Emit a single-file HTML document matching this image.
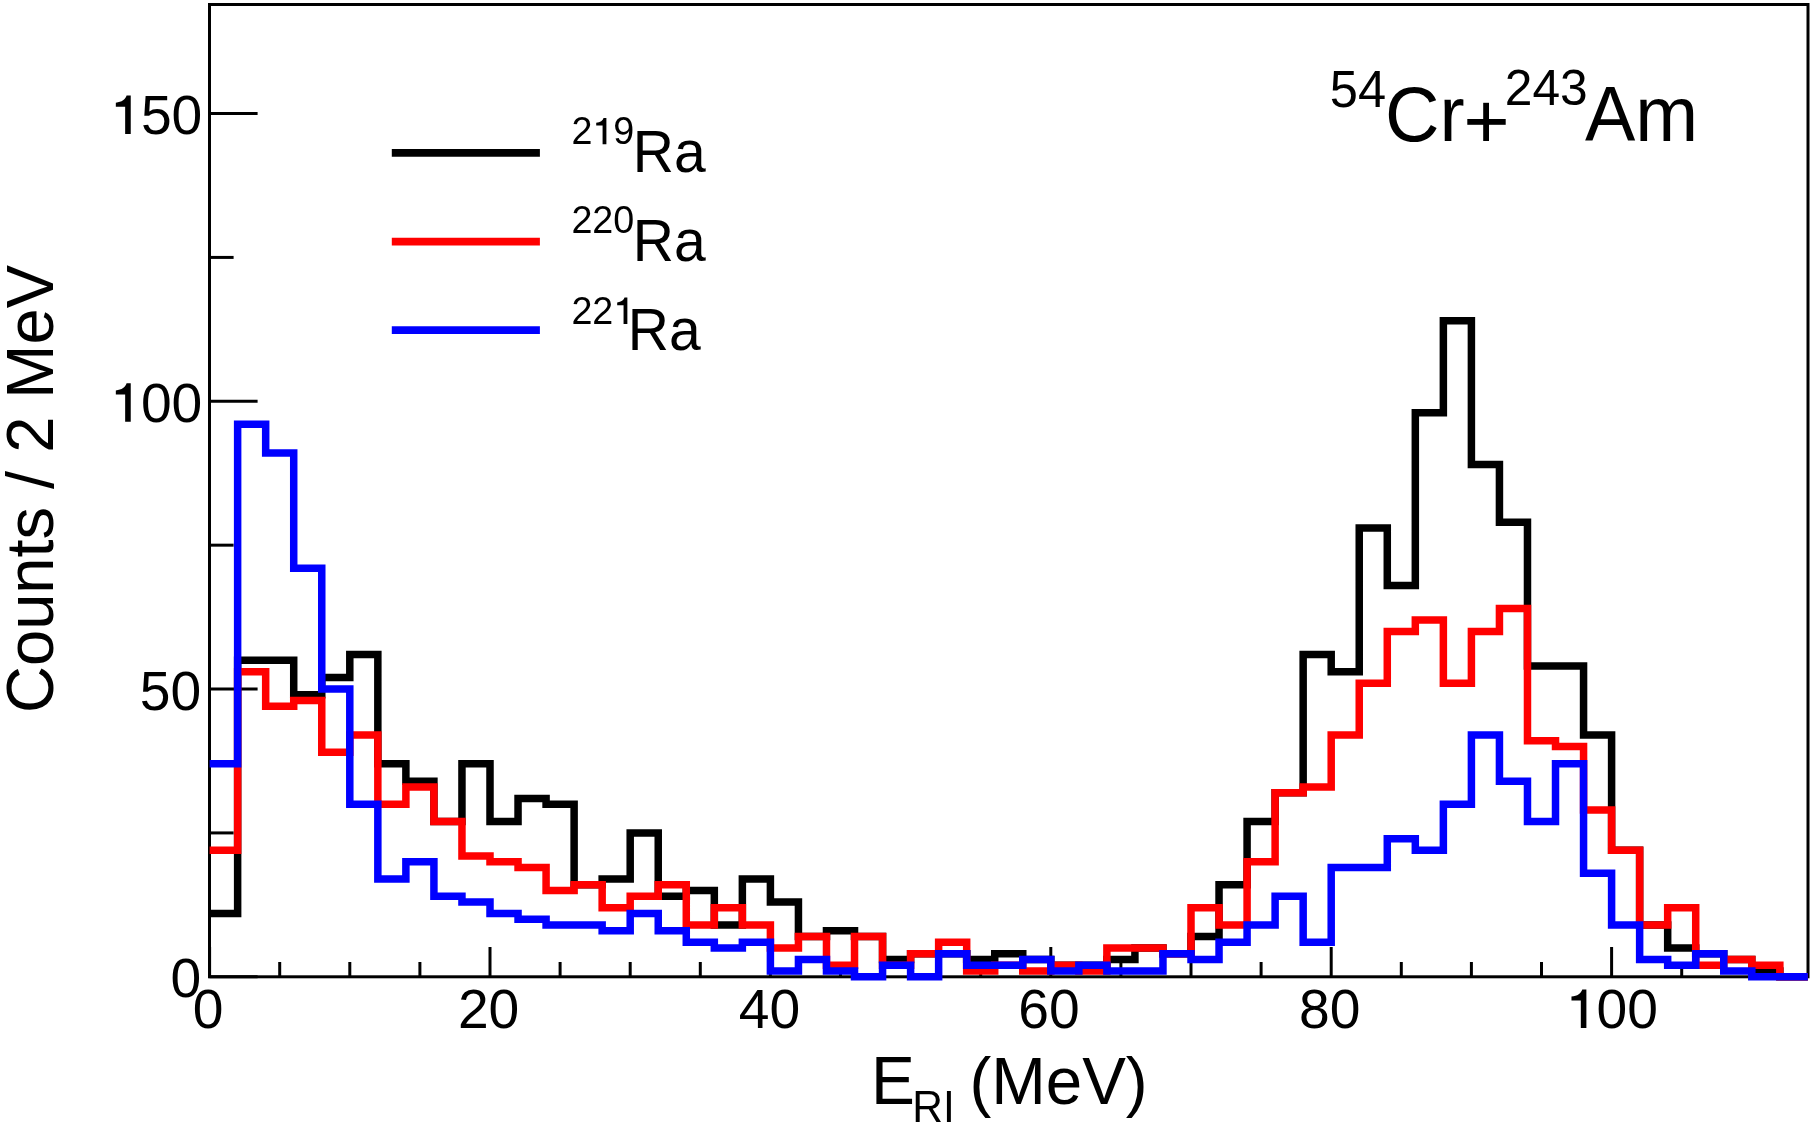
<!DOCTYPE html>
<html><head><meta charset="utf-8"><style>
html,body{margin:0;padding:0;background:#fff;overflow:hidden}
svg{display:block;will-change:transform}
text{font-family:"Liberation Sans",sans-serif;fill:#000}
</style></head><body>
<svg width="1814" height="1125" viewBox="0 0 1814 1125">
<rect width="1814" height="1125" fill="#fff"/>
<g stroke="#000" stroke-width="3" fill="none">
<rect x="209.5" y="4.5" width="1598.5" height="972.3"/>
<line x1="209.50" y1="976.80" x2="257.60" y2="976.80"/><line x1="209.50" y1="689.05" x2="257.60" y2="689.05"/><line x1="209.50" y1="401.30" x2="257.60" y2="401.30"/><line x1="209.50" y1="113.55" x2="257.60" y2="113.55"/><line x1="209.50" y1="832.92" x2="233.60" y2="832.92"/><line x1="209.50" y1="545.17" x2="233.60" y2="545.17"/><line x1="209.50" y1="257.42" x2="233.60" y2="257.42"/><line x1="209.60" y1="976.80" x2="209.60" y2="947.00"/><line x1="279.70" y1="976.80" x2="279.70" y2="962.00"/><line x1="349.80" y1="976.80" x2="349.80" y2="962.00"/><line x1="419.90" y1="976.80" x2="419.90" y2="962.00"/><line x1="490.00" y1="976.80" x2="490.00" y2="947.00"/><line x1="560.10" y1="976.80" x2="560.10" y2="962.00"/><line x1="630.20" y1="976.80" x2="630.20" y2="962.00"/><line x1="700.30" y1="976.80" x2="700.30" y2="962.00"/><line x1="770.40" y1="976.80" x2="770.40" y2="947.00"/><line x1="840.50" y1="976.80" x2="840.50" y2="962.00"/><line x1="910.60" y1="976.80" x2="910.60" y2="962.00"/><line x1="980.70" y1="976.80" x2="980.70" y2="962.00"/><line x1="1050.80" y1="976.80" x2="1050.80" y2="947.00"/><line x1="1120.90" y1="976.80" x2="1120.90" y2="962.00"/><line x1="1191.00" y1="976.80" x2="1191.00" y2="962.00"/><line x1="1261.10" y1="976.80" x2="1261.10" y2="962.00"/><line x1="1331.20" y1="976.80" x2="1331.20" y2="947.00"/><line x1="1401.30" y1="976.80" x2="1401.30" y2="962.00"/><line x1="1471.40" y1="976.80" x2="1471.40" y2="962.00"/><line x1="1541.50" y1="976.80" x2="1541.50" y2="962.00"/><line x1="1611.60" y1="976.80" x2="1611.60" y2="947.00"/><line x1="1681.70" y1="976.80" x2="1681.70" y2="962.00"/><line x1="1751.80" y1="976.80" x2="1751.80" y2="962.00"/>
</g>
<g fill="none" stroke-width="7.5" stroke-linejoin="miter" stroke-miterlimit="10" stroke-linecap="butt">
<path stroke="#000" d="M209.60 913.50 L237.64 913.50 L237.64 660.27 L265.68 660.27 L265.68 660.27 L293.72 660.27 L293.72 694.80 L321.76 694.80 L321.76 677.54 L349.80 677.54 L349.80 654.52 L377.84 654.52 L377.84 763.87 L405.88 763.87 L405.88 781.13 L433.92 781.13 L433.92 821.41 L461.96 821.41 L461.96 763.87 L490.00 763.87 L490.00 821.41 L518.04 821.41 L518.04 798.39 L546.08 798.39 L546.08 804.15 L574.12 804.15 L574.12 884.72 L602.16 884.72 L602.16 878.96 L630.20 878.96 L630.20 832.92 L658.24 832.92 L658.24 896.23 L686.28 896.23 L686.28 890.47 L714.32 890.47 L714.32 925.00 L742.36 925.00 L742.36 878.96 L770.40 878.96 L770.40 901.98 L798.44 901.98 L798.44 936.51 L826.48 936.51 L826.48 930.76 L854.52 930.76 L854.52 936.51 L882.56 936.51 L882.56 959.53 L910.60 959.53 L910.60 953.78 L938.64 953.78 L938.64 953.78 L966.68 953.78 L966.68 959.53 L994.72 959.53 L994.72 953.78 L1022.76 953.78 L1022.76 959.53 L1050.80 959.53 L1050.80 965.29 L1078.84 965.29 L1078.84 965.29 L1106.88 965.29 L1106.88 959.53 L1134.92 959.53 L1134.92 948.02 L1162.96 948.02 L1162.96 953.78 L1191.00 953.78 L1191.00 936.51 L1219.04 936.51 L1219.04 884.72 L1247.08 884.72 L1247.08 821.41 L1275.12 821.41 L1275.12 792.64 L1303.16 792.64 L1303.16 654.52 L1331.20 654.52 L1331.20 671.78 L1359.24 671.78 L1359.24 527.91 L1387.28 527.91 L1387.28 585.46 L1415.32 585.46 L1415.32 412.81 L1443.36 412.81 L1443.36 320.73 L1471.40 320.73 L1471.40 464.61 L1499.44 464.61 L1499.44 522.15 L1527.48 522.15 L1527.48 666.03 L1555.52 666.03 L1555.52 666.03 L1583.56 666.03 L1583.56 735.09 L1611.60 735.09 L1611.60 850.19 L1639.64 850.19 L1639.64 925.00 L1667.68 925.00 L1667.68 948.02 L1695.72 948.02 L1695.72 953.78 L1723.76 953.78 L1723.76 959.53 L1751.80 959.53 L1751.80 971.04 L1779.84 971.04 L1779.84 976.80 L1807.88 976.80"/>
<path stroke="#f00" d="M209.60 850.19 L237.64 850.19 L237.64 671.78 L265.68 671.78 L265.68 706.31 L293.72 706.31 L293.72 700.56 L321.76 700.56 L321.76 752.36 L349.80 752.36 L349.80 735.09 L377.84 735.09 L377.84 804.15 L405.88 804.15 L405.88 786.88 L433.92 786.88 L433.92 821.41 L461.96 821.41 L461.96 855.94 L490.00 855.94 L490.00 861.70 L518.04 861.70 L518.04 867.45 L546.08 867.45 L546.08 890.47 L574.12 890.47 L574.12 884.72 L602.16 884.72 L602.16 907.74 L630.20 907.74 L630.20 896.23 L658.24 896.23 L658.24 884.72 L686.28 884.72 L686.28 925.00 L714.32 925.00 L714.32 907.74 L742.36 907.74 L742.36 925.00 L770.40 925.00 L770.40 948.02 L798.44 948.02 L798.44 936.51 L826.48 936.51 L826.48 965.29 L854.52 965.29 L854.52 936.51 L882.56 936.51 L882.56 965.29 L910.60 965.29 L910.60 953.78 L938.64 953.78 L938.64 942.27 L966.68 942.27 L966.68 971.04 L994.72 971.04 L994.72 965.29 L1022.76 965.29 L1022.76 971.04 L1050.80 971.04 L1050.80 965.29 L1078.84 965.29 L1078.84 971.04 L1106.88 971.04 L1106.88 948.02 L1134.92 948.02 L1134.92 948.02 L1162.96 948.02 L1162.96 953.78 L1191.00 953.78 L1191.00 907.74 L1219.04 907.74 L1219.04 925.00 L1247.08 925.00 L1247.08 861.70 L1275.12 861.70 L1275.12 792.64 L1303.16 792.64 L1303.16 786.88 L1331.20 786.88 L1331.20 735.09 L1359.24 735.09 L1359.24 683.29 L1387.28 683.29 L1387.28 631.50 L1415.32 631.50 L1415.32 619.99 L1443.36 619.99 L1443.36 683.29 L1471.40 683.29 L1471.40 631.50 L1499.44 631.50 L1499.44 608.48 L1527.48 608.48 L1527.48 740.85 L1555.52 740.85 L1555.52 746.60 L1583.56 746.60 L1583.56 809.90 L1611.60 809.90 L1611.60 850.19 L1639.64 850.19 L1639.64 925.00 L1667.68 925.00 L1667.68 907.74 L1695.72 907.74 L1695.72 965.29 L1723.76 965.29 L1723.76 959.53 L1751.80 959.53 L1751.80 965.29 L1779.84 965.29 L1779.84 976.80 L1807.88 976.80"/>
<path stroke="#00f" d="M209.60 763.87 L237.64 763.87 L237.64 424.32 L265.68 424.32 L265.68 453.09 L293.72 453.09 L293.72 568.19 L321.76 568.19 L321.76 689.05 L349.80 689.05 L349.80 804.15 L377.84 804.15 L377.84 878.96 L405.88 878.96 L405.88 861.70 L433.92 861.70 L433.92 896.23 L461.96 896.23 L461.96 901.98 L490.00 901.98 L490.00 913.50 L518.04 913.50 L518.04 919.25 L546.08 919.25 L546.08 925.00 L574.12 925.00 L574.12 925.00 L602.16 925.00 L602.16 930.76 L630.20 930.76 L630.20 913.50 L658.24 913.50 L658.24 930.76 L686.28 930.76 L686.28 942.27 L714.32 942.27 L714.32 948.02 L742.36 948.02 L742.36 942.27 L770.40 942.27 L770.40 971.04 L798.44 971.04 L798.44 959.53 L826.48 959.53 L826.48 971.04 L854.52 971.04 L854.52 976.80 L882.56 976.80 L882.56 965.29 L910.60 965.29 L910.60 976.80 L938.64 976.80 L938.64 953.78 L966.68 953.78 L966.68 965.29 L994.72 965.29 L994.72 965.29 L1022.76 965.29 L1022.76 959.53 L1050.80 959.53 L1050.80 971.04 L1078.84 971.04 L1078.84 965.29 L1106.88 965.29 L1106.88 971.04 L1134.92 971.04 L1134.92 971.04 L1162.96 971.04 L1162.96 953.78 L1191.00 953.78 L1191.00 959.53 L1219.04 959.53 L1219.04 942.27 L1247.08 942.27 L1247.08 925.00 L1275.12 925.00 L1275.12 896.23 L1303.16 896.23 L1303.16 942.27 L1331.20 942.27 L1331.20 867.45 L1359.24 867.45 L1359.24 867.45 L1387.28 867.45 L1387.28 838.68 L1415.32 838.68 L1415.32 850.19 L1443.36 850.19 L1443.36 804.15 L1471.40 804.15 L1471.40 735.09 L1499.44 735.09 L1499.44 781.13 L1527.48 781.13 L1527.48 821.41 L1555.52 821.41 L1555.52 763.87 L1583.56 763.87 L1583.56 873.21 L1611.60 873.21 L1611.60 925.00 L1639.64 925.00 L1639.64 959.53 L1667.68 959.53 L1667.68 965.29 L1695.72 965.29 L1695.72 953.78 L1723.76 953.78 L1723.76 971.04 L1751.80 971.04 L1751.80 976.80 L1779.84 976.80 L1779.84 976.80 L1807.88 976.80"/>
</g>
<g fill="#000"><text transform="translate(170.50,997.30) scale(1,1.0200)" font-size="55.20">0</text><text transform="translate(139.70,709.55) scale(1,1.0200)" font-size="55.20">5</text><text transform="translate(170.40,709.55) scale(1,1.0200)" font-size="55.20">0</text><path transform="translate(110.20,421.80) scale(0.05520,-0.05520)" d="M372 0L372 697L297 697C280 630 210 575 102 569L102 496L271 496L271 0Z"/><text transform="translate(140.90,421.80) scale(1,1.0200)" font-size="55.20">0</text><text transform="translate(171.60,421.80) scale(1,1.0200)" font-size="55.20">0</text><path transform="translate(110.20,134.05) scale(0.05520,-0.05520)" d="M372 0L372 697L297 697C280 630 210 575 102 569L102 496L271 496L271 0Z"/><text transform="translate(140.90,134.05) scale(1,1.0200)" font-size="55.20">5</text><text transform="translate(171.60,134.05) scale(1,1.0200)" font-size="55.20">0</text><text transform="translate(192.80,1027.90) scale(1,1.0200)" font-size="55.20">0</text><text transform="translate(457.90,1027.90) scale(1,1.0200)" font-size="55.20">2</text><text transform="translate(488.60,1027.90) scale(1,1.0200)" font-size="55.20">0</text><text transform="translate(738.80,1027.90) scale(1,1.0200)" font-size="55.20">4</text><text transform="translate(769.50,1027.90) scale(1,1.0200)" font-size="55.20">0</text><text transform="translate(1018.30,1027.90) scale(1,1.0200)" font-size="55.20">6</text><text transform="translate(1049.00,1027.90) scale(1,1.0200)" font-size="55.20">0</text><text transform="translate(1298.95,1027.90) scale(1,1.0200)" font-size="55.20">8</text><text transform="translate(1329.65,1027.90) scale(1,1.0200)" font-size="55.20">0</text><path transform="translate(1565.85,1027.90) scale(0.05520,-0.05520)" d="M372 0L372 697L297 697C280 630 210 575 102 569L102 496L271 496L271 0Z"/><text transform="translate(1596.55,1027.90) scale(1,1.0200)" font-size="55.20">0</text><text transform="translate(1627.25,1027.90) scale(1,1.0200)" font-size="55.20">0</text></g>
<g stroke-width="7.7" fill="none"><line x1="391.8" y1="152.85" x2="539.9" y2="152.85" stroke="#000"/><line x1="391.8" y1="241.55" x2="539.9" y2="241.55" stroke="#f00"/><line x1="391.8" y1="330.10" x2="539.9" y2="330.10" stroke="#00f"/></g>
<g fill="#000"><text transform="translate(571.40,144.30) scale(1,1.0200)" font-size="37.70">2</text><path transform="translate(592.37,144.30) scale(0.03770,-0.03770)" d="M372 0L372 697L297 697C280 630 210 575 102 569L102 496L271 496L271 0Z"/><text transform="translate(613.34,144.30) scale(1,1.0200)" font-size="37.70">9</text><text transform="translate(632.80,171.60) scale(1.0000,1.0300)" font-size="57.00">Ra</text><text transform="translate(571.40,233.30) scale(1,1.0200)" font-size="37.70">2</text><text transform="translate(592.37,233.30) scale(1,1.0200)" font-size="37.70">2</text><text transform="translate(613.34,233.30) scale(1,1.0200)" font-size="37.70">0</text><text transform="translate(632.80,260.60) scale(1.0000,1.0300)" font-size="57.00">Ra</text><text transform="translate(571.40,323.90) scale(1,1.0200)" font-size="37.70">2</text><text transform="translate(592.37,323.90) scale(1,1.0200)" font-size="37.70">2</text><path transform="translate(613.34,323.90) scale(0.03770,-0.03770)" d="M372 0L372 697L297 697C280 630 210 575 102 569L102 496L271 496L271 0Z"/><text transform="translate(627.80,349.60) scale(1.0000,1.0300)" font-size="57.00">Ra</text></g>
<g fill="#000"><text transform="translate(1329.80,106.80) scale(1,1.0200)" font-size="50.60">5</text><text transform="translate(1357.94,106.80) scale(1,1.0200)" font-size="50.60">4</text><text transform="translate(1384.90,141.00) scale(1.0000,1.0350)" font-size="75.50">Cr</text><rect x="1467.3" y="119.0" width="38.4" height="5.8"/><rect x="1483.2" y="102.8" width="5.8" height="38.2"/><text transform="translate(1504.80,105.40) scale(1,1.0200)" font-size="49.70">2</text><text transform="translate(1532.44,105.40) scale(1,1.0200)" font-size="49.70">4</text><text transform="translate(1560.09,105.40) scale(1,1.0200)" font-size="49.70">3</text><text transform="translate(1584.90,141.00) scale(1.0000,1.0350)" font-size="75.50">Am</text></g>
<g fill="#000"><text transform="translate(871.10,1103.50) scale(1.0000,1.0400)" font-size="65.80">E</text><text transform="translate(912.20,1121.80) scale(1.0000,1.0400)" font-size="42.50">RI</text><text transform="translate(969.40,1103.50) scale(1.0000,1.0300)" font-size="65.50">(MeV)</text><text transform="translate(52.8,712.9) rotate(-90) scale(1,1.03)" font-size="65">Counts / 2 MeV</text></g>
</svg>
</body></html>
